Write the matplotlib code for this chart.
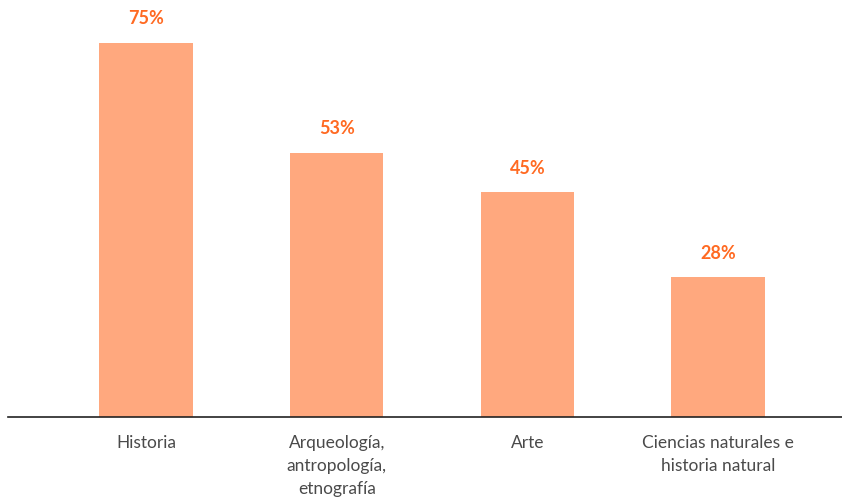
import matplotlib
matplotlib.use("Agg")
import matplotlib.pyplot as plt

categories = ["Historia", "Arqueología,\nantropología,\netnografía", "Arte", "Ciencias naturales e\nhistoria natural"]
values = [75, 53, 45, 28]
value_labels = ["75%", "53%", "45%", "28%"]

plt.rcParams['font.family'] = ['Lato', 'DejaVu Sans']

fig = plt.figure(figsize=(8.42, 5.02), dpi=100)
ax = fig.add_axes([8/842, 84/502, 1 - 8/842, 418/502])
x = list(range(len(categories)))
ax.bar(x, values, width=0.49, color="#FFA87E", zorder=2)
for xi, v, lab in zip(x, values, value_labels):
    ax.annotate(lab, (xi, v), xytext=(0, 12), textcoords="offset points",
                ha="center", va="bottom", color="#FF6A22", fontsize=13, fontweight="bold")
ax.set_xlim(-0.724, 3.65)
ax.set_ylim(0, 418/4.99)
ax.set_xticks(x)
ax.set_xticklabels(categories, fontsize=12.5, color="#4a4a4a", linespacing=1.55)
ax.tick_params(axis="x", length=0, pad=12)
ax.set_yticks([])
for s in ["top", "right", "left"]:
    ax.spines[s].set_visible(False)
ax.spines["bottom"].set_color("#222222")
ax.spines["bottom"].set_linewidth(1.2)
fig.savefig("out.png", dpi=100)
